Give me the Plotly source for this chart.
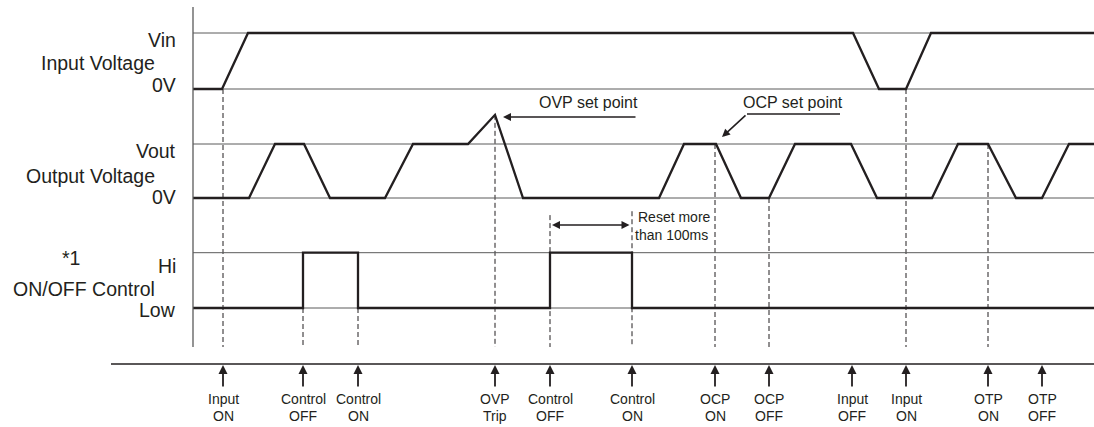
import plotly.graph_objects as go

# ---------------- data (time units, level units) ----------------
input_t = [0, 29, 55, 660, 686, 713, 738, 901]
input_v = [0, 0, 1, 1, 0, 0, 1, 1]

output_t = [0, 56, 82, 111, 137, 192, 220, 275, 302, 330, 466, 491, 523, 548,
            576, 602, 658, 684, 739, 765, 795, 823, 849, 876, 901]
output_v = [0, 0, 1, 1, 0, 0, 1, 1, 1.54, 0, 0, 1, 1, 0,
            0, 1, 1, 0, 0, 1, 1, 0, 0, 1, 1]

control_t = [0, 110, 110, 165, 165, 357, 357, 439, 439, 901]
control_v = [0, 0, 1, 1, 0, 0, 1, 1, 0, 0]

event_t = [30, 110, 165, 302, 357, 439, 522, 576, 659, 713, 795, 849]
event_line1 = ["Input", "Control", "Control", "OVP", "Control", "Control",
               "OCP", "OCP", "Input", "Input", "OTP", "OTP"]
event_line2 = ["ON", "OFF", "ON", "Trip", "OFF", "ON",
               "ON", "OFF", "OFF", "ON", "ON", "OFF"]
# dashed guide: (time, signal, level it starts from)
guide_t = [30, 110, 165, 302, 357, 439, 522, 576, 713, 795]
guide_sig = ["in", "ctl", "ctl", "out", "ctl", "ctl", "out", "out", "in", "out"]
guide_lvl = [0, 0, 0, 1.54, 1.68, 1.75, 1, 0, 0, 1]

# ---------------- layout geometry ----------------
W, H = 1094, 427
X0 = 193  # pixel of time zero
rows = {"in": (89, 56.0, "y"), "out": (198, 54.0, "y2"), "ctl": (308, 55.3, "y3")}
INK = "#231f20"
GRID = "#5a5a5a"
FONT = "Liberation Sans, Arial, sans-serif"


def paper(px):
    return 1 - px / H


def lvl_px(sig, lvl):
    base, amp, _ = rows[sig]
    return base - amp * lvl


fig = go.Figure()

for sig, t, v in [("in", input_t, input_v), ("out", output_t, output_v), ("ctl", control_t, control_v)]:
    fig.add_trace(go.Scatter(x=t, y=v, mode="lines", yaxis=rows[sig][2],
                             line=dict(color=INK, width=2.3), hoverinfo="skip",
                             showlegend=False))

shapes = []
# reference level lines
for sig in rows:
    for lv in (0, 1):
        shapes.append(dict(type="line", xref="x", yref=rows[sig][2], x0=0, x1=W - X0,
                           y0=lv, y1=lv, line=dict(color=GRID, width=1), layer="below"))
# vertical axis
shapes.append(dict(type="line", xref="x", yref="paper", x0=0, x1=0,
                   y0=paper(7), y1=paper(347), line=dict(color=GRID, width=1.3)))
# bottom time line
shapes.append(dict(type="line", xref="x", yref="paper", x0=111 - X0, x1=W - X0,
                   y0=paper(364), y1=paper(364), line=dict(color=INK, width=1.6)))
# dashed guides
for t, s, lv in zip(guide_t, guide_sig, guide_lvl):
    shapes.append(dict(type="line", xref="x", yref="paper", x0=t, x1=t,
                       y0=paper(lvl_px(s, lv)), y1=paper(347),
                       line=dict(color=INK, width=1, dash="5px,3px"), layer="below"))

ann = []
# bottom event arrows + labels
for t, l1, l2 in zip(event_t, event_line1, event_line2):
    ann.append(dict(x=t, y=paper(365), xref="x", yref="paper", ax=0, ay=23,
                    showarrow=True, arrowhead=2, arrowsize=1, arrowwidth=1.8,
                    arrowcolor=INK, text=""))
    ann.append(dict(x=t, y=paper(398.5), xref="x", yref="paper", text=l1,
                    showarrow=False, font=dict(size=14, color=INK, family=FONT),
                    xanchor="center", yanchor="middle"))
    ann.append(dict(x=t, y=paper(415.5), xref="x", yref="paper", text=l2,
                    showarrow=False, font=dict(size=14, color=INK, family=FONT),
                    xanchor="center", yanchor="middle"))

# left labels
left = [("Vin", 178, 40), ("Input Voltage", 157, 63), ("0V", 178, 84.5),
        ("Vout", 178, 151), ("Output Voltage", 157, 175.5), ("0V", 178, 197.5),
        ("Hi", 178, 266), ("ON/OFF Control", 157, 288.5), ("Low", 178, 310)]
for txt, xr, yc in left:
    ann.append(dict(x=xr - X0, y=paper(yc), xref="x", yref="paper", text=txt,
                    showarrow=False, xanchor="right", yanchor="middle",
                    font=dict(size=19.5, color=INK, family=FONT)))
ann.append(dict(x=71 - X0, y=paper(258), xref="x", yref="paper", text="*1",
                showarrow=False, xanchor="center", yanchor="middle",
                font=dict(size=19.5, color=INK, family=FONT)))

# OVP set point
ann.append(dict(x=503 - X0, y=paper(117), xref="x", yref="paper", ax=134, ay=0,
                showarrow=True, arrowhead=2, arrowsize=1, arrowwidth=1.6,
                arrowcolor=INK, text=""))
ann.append(dict(x=588 - X0, y=paper(102), xref="x", yref="paper", text="OVP set point",
                showarrow=False, xanchor="center", yanchor="middle",
                font=dict(size=16, color=INK, family=FONT)))
# OCP set point
shapes.append(dict(type="line", xref="x", yref="paper", x0=747 - X0, x1=840 - X0,
                   y0=paper(114), y1=paper(114), line=dict(color=INK, width=1.6)))
ann.append(dict(x=722 - X0, y=paper(137), xref="x", yref="paper", ax=25, ay=-23,
                showarrow=True, arrowhead=2, arrowsize=1, arrowwidth=1.6,
                arrowcolor=INK, text=""))
ann.append(dict(x=793 - X0, y=paper(102), xref="x", yref="paper", text="OCP set point",
                showarrow=False, xanchor="center", yanchor="middle",
                font=dict(size=16, color=INK, family=FONT)))
# Reset more than 100ms
ann.append(dict(x=552 - X0, y=paper(225), xref="x", yref="paper", ax=79, ay=0,
                showarrow=True, arrowhead=2, startarrowhead=2, arrowside="end+start",
                arrowsize=1, startarrowsize=1, arrowwidth=1.6,
                arrowcolor=INK, text=""))
ann.append(dict(x=636 - X0, y=paper(216.5), xref="x", yref="paper", text="Reset more",
                showarrow=False, xanchor="left", yanchor="middle",
                font=dict(size=14, color=INK, family=FONT)))
ann.append(dict(x=633 - X0, y=paper(234.5), xref="x", yref="paper", text="than 100ms",
                showarrow=False, xanchor="left", yanchor="middle",
                font=dict(size=14, color=INK, family=FONT)))


def yrange(sig):
    base, amp, _ = rows[sig]
    return [(base - H) / amp, base / amp]


ax_common = dict(visible=False, fixedrange=True, showgrid=False, zeroline=False)
fig.update_layout(
    width=W, height=H, margin=dict(l=0, r=0, t=0, b=0),
    paper_bgcolor="white", plot_bgcolor="white",
    xaxis=dict(range=[-X0, W - X0], **ax_common),
    yaxis=dict(range=yrange("in"), **ax_common),
    yaxis2=dict(range=yrange("out"), overlaying="y", **ax_common),
    yaxis3=dict(range=yrange("ctl"), overlaying="y", **ax_common),
    shapes=shapes, annotations=ann, showlegend=False,
)

fig.write_html("out.html", config={"displayModeBar": False},
               post_script="document.body.style.margin='0';document.body.style.overflow='hidden';")
